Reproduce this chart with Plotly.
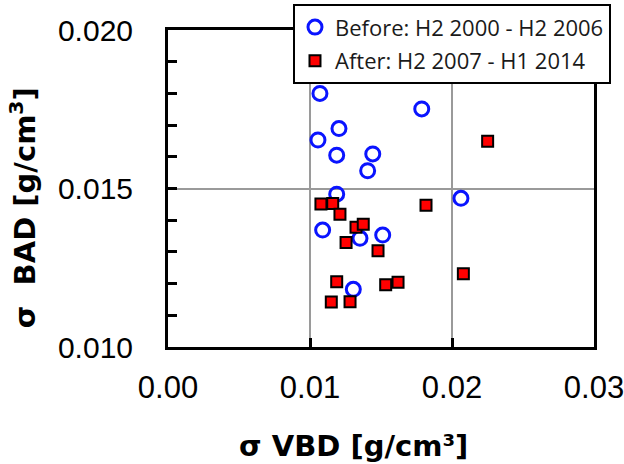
import plotly.graph_objects as go

# Before: H2 2000 - H2 2006 (blue open circles)
before_x = [0.0107, 0.01787, 0.01204, 0.01056, 0.01188, 0.01442, 0.01406,
            0.01188, 0.02063, 0.01089, 0.01352, 0.01512, 0.01305]
before_y = [0.0180, 0.01751, 0.01689, 0.01653, 0.01605, 0.01609, 0.01556,
            0.01482, 0.01469, 0.01369, 0.01343, 0.01353, 0.01182]

# After: H2 2007 - H1 2014 (red squares)
after_x = [0.01077, 0.0116, 0.01211, 0.01324, 0.01375, 0.01254, 0.01479,
           0.01817, 0.0208, 0.01188, 0.01533, 0.0162, 0.0115, 0.01282, 0.02251]
after_y = [0.01451, 0.01453, 0.01419, 0.01378, 0.01387, 0.0133, 0.01304,
           0.01447, 0.01231, 0.01206, 0.01196, 0.01204, 0.01142, 0.01143, 0.01649]

before_name = "Before: H2 2000 - H2 2006"
after_name = "After: H2 2007 - H1 2014"

x_ticks = [0.00, 0.01, 0.02, 0.03]
x_tick_text = ["0.00", "0.01", "0.02", "0.03"]
y_ticks = [0.010, 0.015, 0.020]
y_tick_text = ["0.010", "0.015", "0.020"]

x_title = "σ VBD [g/cm³]"
y_title = "σ  BAD [g/cm<sup>3</sup>]"

fig = go.Figure()
fig.add_trace(go.Scatter(
    x=before_x, y=before_y, mode="markers", name=before_name,
    legendgroup="a",
    marker=dict(symbol="circle-open", size=14, color="#0a14ff",
                line=dict(width=3, color="#0a14ff")),
))
fig.add_trace(go.Scatter(
    x=after_x, y=after_y, mode="markers", name=after_name,
    legendgroup="b",
    marker=dict(symbol="square", size=11, color="#ff0000",
                line=dict(width=2, color="black")),
))

axis_font = dict(family="Liberation Sans, Arial, sans-serif", color="black")

fig.update_layout(
    width=624, height=464,
    margin=dict(l=168, r=30, t=30, b=117, autoexpand=False),
    paper_bgcolor="white", plot_bgcolor="white",
    showlegend=True,
    legend=dict(
        x=0.2934, y=1.081, xanchor="left", yanchor="top",
        bgcolor="white", bordercolor="black", borderwidth=2,
        font=dict(family="Open Sans, sans-serif", size=22, color="#1a1a1a"),
        tracegroupgap=2,
    ),
    xaxis=dict(
        range=[0, 0.03], tickvals=x_ticks, ticktext=x_tick_text,
        ticks="inside", ticklen=9, tickwidth=2.5, tickcolor="black",
        showline=True, linecolor="black", linewidth=3, mirror=True,
        showgrid=True, gridcolor="#9a9a9a", gridwidth=2,
        zeroline=False,
        tickfont=dict(size=31, **axis_font),
        ticklabelstandoff=11,
        ticklabeloverflow="allow",
    ),
    yaxis=dict(
        range=[0.010, 0.020], tickvals=y_ticks, ticktext=y_tick_text,
        ticks="inside", ticklen=9, tickwidth=2.5, tickcolor="black",
        showline=True, linecolor="black", linewidth=3, mirror=True,
        showgrid=True, gridcolor="#9a9a9a", gridwidth=2,
        zeroline=False,
        tickfont=dict(size=30, **axis_font),
        ticklabelstandoff=26,
        ticklabeloverflow="allow",
        minor=dict(dtick=0.001, tick0=0.010, ticks="inside", ticklen=9,
                   tickwidth=2.5, tickcolor="black", showgrid=False),
    ),
    annotations=[
        dict(text=x_title, xref="paper", yref="paper", x=0.435, y=-0.312,
             xanchor="center", yanchor="middle", showarrow=False,
             font=dict(family="DejaVu Sans, sans-serif", size=29,
                       color="black", weight="bold")),
        dict(text=y_title, xref="paper", yref="paper", x=-0.34, y=0.4385,
             xanchor="center", yanchor="middle", showarrow=False,
             textangle=-90,
             font=dict(family="DejaVu Sans, sans-serif", size=29,
                       color="black", weight="bold")),
    ],
)

fig.write_html("out.html")
